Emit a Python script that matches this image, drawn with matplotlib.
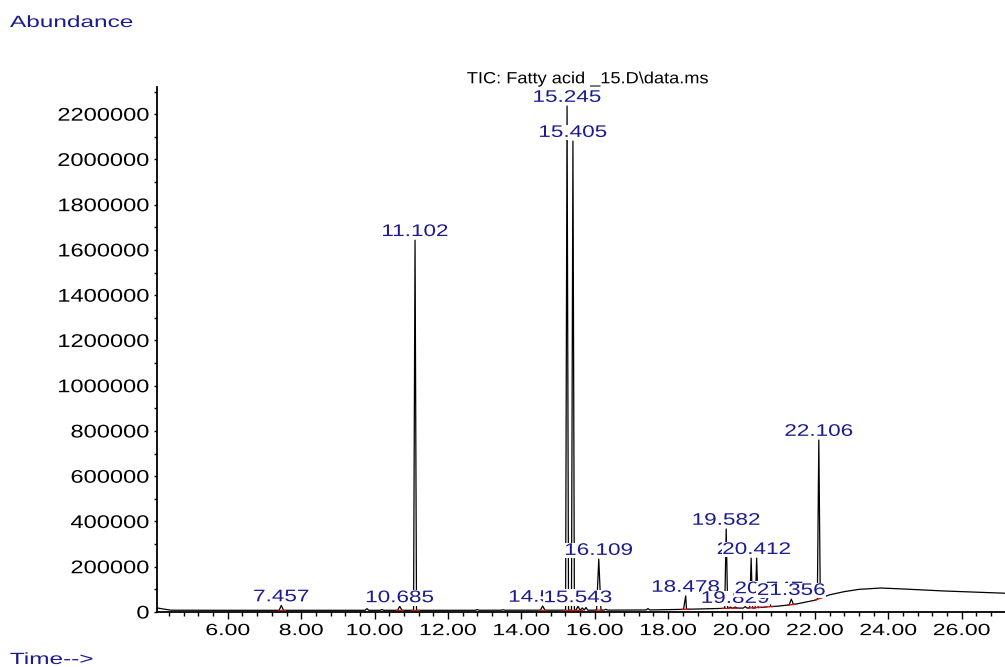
import numpy as np
import matplotlib
matplotlib.use('Agg')
import matplotlib.pyplot as plt
from matplotlib.patheffects import AbstractPathEffect
from matplotlib.transforms import Affine2D
from matplotlib.ticker import MultipleLocator, FixedLocator

# ---------------- data ----------------
baseline_rt = [4.07, 4.25, 4.45, 6.0, 8.0, 10.0, 12.0, 14.0, 16.0, 17.5, 18.5,
               19.5, 20.3, 21.0, 21.45, 22.0, 22.4, 22.8, 23.2, 23.8, 24.5,
               25.5, 26.5, 27.18]
baseline_ab = [18000, 13000, 8000, 7500, 7500, 7500, 7500, 8000, 8000, 9000,
               12000, 16000, 18000, 26000, 34000, 52000, 76000, 90000, 100000,
               106000, 101000, 93000, 87000, 83000]

peak_rt = [7.457, 10.685, 11.102, 14.581, 15.245, 15.405, 15.543, 16.109,
           18.478, 19.582, 19.829, 20.262, 20.412, 20.747, 21.356, 22.106]
peak_ab = [29000, 25000, 1643000, 27000, 2236000, 2081000, 25000, 234000,
           71000, 367000, 22000, 238000, 238000, 40000, 57000, 760000]
peak_labels = ['7.457', '10.685', '11.102', '14.581', '15.245', '15.405',
               '15.543', '16.109', '18.478', '19.582', '19.829', '20.262',
               '20.412', '20.747', '21.356', '22.106']

minor_rt = [9.79, 10.2, 12.8, 13.5, 15.66, 15.76, 16.3, 17.45, 19.7, 20.1]
minor_ab = [15000, 11000, 11000, 10000, 18000, 20000, 12000, 15000, 22000, 24000]

x_ticks = [6, 8, 10, 12, 14, 16, 18, 20, 22, 24, 26]
y_ticks = [0, 200000, 400000, 600000, 800000, 1000000, 1200000, 1400000,
           1600000, 1800000, 2000000, 2200000]

title_text = 'TIC: Fatty acid _15.D\\data.ms'

# ---------------- styling ----------------
NAVY = '#1b1b8f'
FONT = 'Liberation Sans'
label_extra_pts = {'20.747': 4.0}


class Stretch(AbstractPathEffect):
    """Widen glyphs horizontally (the reference uses a wide rendering)."""
    def __init__(self, sx, anchor='center'):
        super().__init__(offset=(0., 0.))
        self._sx = sx
        self._anchor = anchor

    def draw_path(self, renderer, gc, tpath, affine, rgbFace=None):
        ext = tpath.get_extents()
        if self._anchor == 'left':
            c = ext.x0
        elif self._anchor == 'right':
            c = ext.x1
        else:
            c = 0.5 * (ext.x0 + ext.x1)
        tr = Affine2D().translate(-c, 0).scale(self._sx, 1).translate(c, 0) + affine
        renderer.draw_path(gc, tpath, tr, rgbFace)


W, H = 1005, 667
fig = plt.figure(figsize=(W / 100, H / 100), dpi=100)
ax = fig.add_axes([157 / W, (H - 612) / H, (W - 157) / W, (612 - 87) / H])


def base_at(x):
    return float(np.interp(x, baseline_rt, baseline_ab))


# build trace
pts = list(zip(baseline_rt, baseline_ab))
for rt, ab in zip(peak_rt, peak_ab):
    w = 0.06 if ab < 100000 else 0.04
    if abs(rt - 16.109) < 1e-6:
        w = 0.06
    pts += [(rt - w, base_at(rt - w)), (rt, ab), (rt + w, base_at(rt + w))]
for rt, ab in zip(minor_rt, minor_ab):
    w = 0.05
    pts += [(rt - w, base_at(rt - w)), (rt, ab), (rt + w, base_at(rt + w))]
pts.sort()
tx = [p[0] for p in pts]
ty = [p[1] for p in pts]
ax.plot(tx, ty, color='black', lw=0.9, zorder=2)

# red integration baselines
for rt, ab in zip(peak_rt, peak_ab):
    a, b = rt - 0.1, rt + 0.1
    ax.plot([a, b], [base_at(a), base_at(b)], color='#cc1111', lw=1.0, zorder=2.5)

# peak labels
for i, (rt, ab, lab) in enumerate(zip(peak_rt, peak_ab, peak_labels)):
    off = 3.0 + label_extra_pts.get(lab, 0.0)
    ann = ax.annotate(lab, xy=(rt, ab), xytext=(0, off), textcoords='offset points',
                      ha='center', va='baseline', fontsize=12.1, color=NAVY,
                      family=FONT, zorder=5 + i * 0.01, annotation_clip=False,
                      bbox=dict(boxstyle='square,pad=0.02', facecolor='white',
                                edgecolor='none'))
    ann.set_path_effects([Stretch(1.34)])
    ann.get_bbox_patch().set_path_effects([Stretch(1.34)])

# axes
ax.set_xlim(4.07, 27.18)
ax.set_ylim(0, 2320000)
for s in ['top', 'right']:
    ax.spines[s].set_visible(False)
for s in ['left', 'bottom']:
    ax.spines[s].set_linewidth(1.3)
    ax.spines[s].set_color('black')

ax.xaxis.set_major_locator(FixedLocator(x_ticks))
ax.xaxis.set_minor_locator(MultipleLocator(0.4))
ax.yaxis.set_major_locator(FixedLocator(y_ticks))
ax.yaxis.set_minor_locator(MultipleLocator(100000))
ax.set_xticklabels(['%.2f' % v for v in x_ticks])
ax.set_yticklabels(['%d' % v for v in y_ticks])
ax.tick_params(axis='x', which='major', length=5.0, width=1.0, direction='out', pad=3.0)
ax.tick_params(axis='x', which='minor', length=3.0, width=1.0, direction='out')
ax.tick_params(axis='y', which='major', length=2.5, width=1.0, direction='out', pad=3.0)
ax.tick_params(axis='y', which='minor', length=2.5, width=1.0, direction='out')

for t in ax.get_xticklabels():
    t.set_fontfamily(FONT)
    t.set_fontsize(11.7)
    t.set_path_effects([Stretch(1.42)])
for t in ax.get_yticklabels():
    t.set_fontfamily(FONT)
    t.set_fontsize(13.2)
    t.set_path_effects([Stretch(1.29, anchor='right')])

# figure texts
tt = fig.text(588 / W, 1 - 83.3 / H, title_text, ha='center', va='baseline',
              fontsize=11.7, family=FONT, color='black')
tt.set_path_effects([Stretch(1.12)])
ta = fig.text(10 / W, 1 - 27 / H, 'Abundance', ha='left', va='baseline',
              fontsize=11.7, family=FONT, color=NAVY)
ta.set_path_effects([Stretch(1.5, anchor='left')])
tm = fig.text(10 / W, 1 - 664 / H, 'Time-->', ha='left', va='baseline',
              fontsize=11.7, family=FONT, color=NAVY)
tm.set_path_effects([Stretch(1.5, anchor='left')])

fig.savefig('out.png', dpi=100, facecolor='white')
